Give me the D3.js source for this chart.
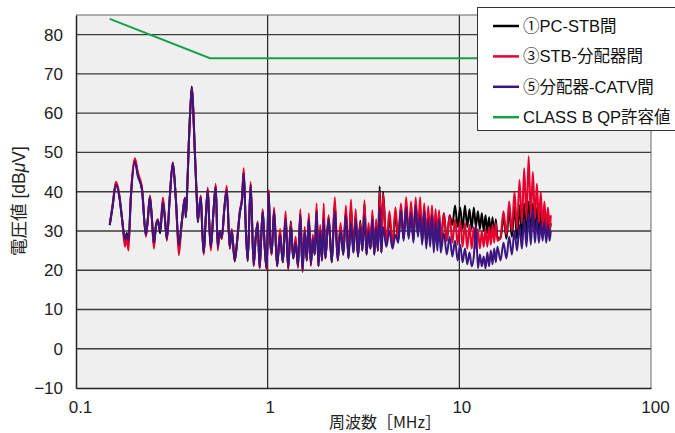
<!DOCTYPE html>
<html><head><meta charset="utf-8">
<script src="https://cdn.jsdelivr.net/npm/d3@7"></script>
<style>body{margin:0;background:#fff;} svg{display:block;font-family:"Liberation Sans","Noto Sans CJK JP",sans-serif;}</style>
</head><body><svg id="c" width="675" height="433"></svg>
<script>
// Frequency sweep points (MHz)
const freqMHz = [
0.150,0.155,0.1615,0.168,0.174, 0.180,0.184,0.188,0.193,0.203, 0.210,0.221,0.2315,0.237,0.243,
0.249,0.255,0.261,0.267,0.275, 0.284,0.290,0.298,0.308,0.320, 0.332,0.344,0.356,0.370,0.374,
0.380,0.3876,0.397,0.402,0.407, 0.417,0.427,0.432,0.440,0.448, 0.456,0.464,0.475,0.487,0.496,
0.505,0.520,0.536,0.549,0.562, 0.576,0.595,0.612,0.634,0.650, 0.673,0.695,0.715,0.735,0.750,
0.770,0.787,0.815,0.845,0.865, 0.887,0.908,0.925,0.942,0.965, 0.988,1.000,1.012,1.030,1.049,
1.08,1.12,1.16,1.20,1.24,1.28,1.32,1.36,1.40,1.44,1.48,1.52,1.56,1.60,1.64,1.68,1.72,1.76,1.80,1.84,1.88,1.92,1.96,2.00,
2.08,2.16,2.24,2.32,2.40,2.48,2.56,2.64,2.72,2.80,2.88,2.96,3.04,3.12,3.20,3.28,3.36,3.44,3.52,3.60,3.68,3.76,3.84,3.92,4.00,
4.16,4.32,4.48,4.64,4.80,4.96,5.12,5.28,5.44,5.60,5.76,5.92,6.08,6.24,6.40,6.56,6.72,6.88,7.04,7.20,7.36,7.52,7.68,7.84,8.00,
8.3,8.6,8.9,9.2,9.5,9.8,10.1,10.4,10.7,11.0,11.3,11.6,11.9,12.2,12.5,12.8,13.1,13.4,13.7,14.0,14.3,14.6,14.9,15.2,15.5,15.8,
16.4,17.0,17.6,18.2,18.8,19.4,20.0,20.6,21.2,21.8,22.4,23.0,23.6,24.2,24.8,25.4,26.0,26.6,27.2,27.8,28.4,29.0,29.6,30.0
];
// ① PC-STB間 (dBμV)
const pcStb = [
31.5,36,42,39,33, 27.5,29.5,27,38,48, 44.5,40.5,29,33,38.8,
33,26.5,31,32.7,29.4, 37.5,34,28,38,47.3, 38,26,32,38.3,33.5,
40,52,63,66.8,63, 50,38,32.2,36,38.6, 30,24.4,33,40.4,31.5,
25.9,34,41.5,26,30, 28,36,40.5,25.5,30, 22.2,28,34.5,38,45,
30,22.3,42,21.2,28, 32,20.5,28,35,26, 20.3,30,39.8,28,24,
35.3,21,29.5,22,33.5,20.5,32.5,23,27.5,21,34.5,20,30,22.5,33.5,21.5,28.5,24,35.5,21,30,22.5,34,23,
33.5,22,37,22.5,31,24,35,23,36,24.5,34,23.5,32.6,25,37,24,31,25.5,34,24,32,25,41.4,24.5,40,
26.5,33,26,34,27.5,36,28,36.5,28.5,35.5,27.5,37,29,36,27,35.5,26.5,34.5,27,35,26,34,27,34.5,26.5,
34.5,27.5,34,31.5,36.5,31,36,30.5,36.5,31,35.5,30.5,36,31,35,30.5,34.5,30,34,29.5,33.5,29,33.5,28.5,33,28.5,
28,33.5,28,35,28.5,36,28,36.5,28.5,37,28.5,37.5,29,37,29,36,29.5,35,29.5,34.5,30,34,30,32
];
// ③ STB-分配器間 (dBμV)
const stbSplitter = [
31.8,36.5,42.5,39.5,33, 26,28,25,38.5,48.5, 45,41,28.5,33,39,
33,25.5,31.5,33,30.5, 38.5,34.5,27.5,38,47.5, 38,23.8,32,38.5,33.5,
40,52,63,66.3,63, 50,38,32.7,36,39, 30,24,33,41,32,
25,34,42,25,30, 28,36,41.5,25.5,30.5, 22.5,28.5,35,38.5,46,
30,22.5,42.5,21,28, 32.5,20.5,28,35.5,26, 20,30.5,40.5,28,24,
36,21,30.5,22,35,20,32,23,28.5,20.5,35.5,19.5,31,22.5,34.5,21,29,24,37,21,31.5,22.5,37,23,
34,22,38.6,22.5,32,24,36.5,23,38,24.5,35.5,23.5,32,25,37.8,24,32,25.5,35.3,24,33,25,40,24.5,39.5,
27,35,26.5,36,28,37,28,38.6,29,37.5,28.5,38.5,29,38.6,28,37,27.5,36.3,28,36.5,27.5,35.5,28,35.3,27,
34.5,27.5,34,27,33,26.5,32.5,26,32,25.5,31.5,25.5,31,25.5,30.5,25.5,30,26,30.5,26,31,26.5,31.5,27,32,27.5,
28.5,35,29,37.5,30,40,30.5,43,32,46,33,49,33.5,45,33,42,32,40,31,37.5,30.5,36,30,34
];
// ⑤ 分配器-CATV間 (dBμV)
const splitterCatv = [
31.5,36,41.7,39,33, 28,29,27.5,38,47.5, 44,40.4,29,33,38.6,
33,27,31,32.7,30, 37.3,34,28,38,47.3, 38,26.4,32,38.3,33.5,
40,52,63,66.3,63, 50,38,32.7,36,38.6, 30,24.4,33,40.4,32,
25.9,34,41.1,25.9,30, 28.4,36,40.4,25.9,30, 22.6,28,34.5,38,44.7,
30,22.6,41.7,21.3,28, 32,20.8,28,34.8,26, 20.5,30,39.6,28,24.4,
35,21,29,22,33,20.5,31,23,27,21,34,20,30,22.5,33,21.5,28,24,35,21,30,22.5,33,23,
33,22,35,22.5,30,24,34,23,32,24.5,33,23.5,31,25,34,24,30,25.5,33,24,31,25,36,24.5,31,
26,30,25.5,29,27,35,27.5,36,28,34.5,27,36.5,28.5,34,26.5,35,25.5,33,26,34,24.5,32.5,25,33,24.5,
29.5,24,28.5,23.5,27.5,22.5,26.5,22,25.5,21.5,24.5,21,23.5,31.5,20.5,24,21,23.5,20.5,24.5,21,25,21.5,25.5,22,26,
22.5,27,23,28.5,24,30,25,31.5,25.5,33,26,34.5,26.5,35.5,27,33,27,32,27.5,32.5,27,31.5,27.5,30
];
// CLASS B QP limit
const limitFreq = [0.15, 0.5, 30];
const limitQP = [84, 74, 74];

const yTicks = [-10,0,10,20,30,40,50,60,70,80];
const xTicks = [0.1,1,10,100];
const seriesNames = ["①PC-STB間","③STB-分配器間","⑤分配器-CATV間","CLASS B QP許容値"];
const seriesColors = ["#000000","#e5002d","#3b1580","#17a04a"];

const svg = d3.select("#c");
const L = 76, R = 651, T = 15, B = 388;
const x = d3.scaleLog().domain([0.1,100]).range([L,R]);
const y = d3.scaleLinear().domain([-10,85]).range([B,T]);

svg.append("rect").attr("x",L).attr("y",T).attr("width",R-L).attr("height",B-T).attr("fill","#efefef");

// horizontal grid
svg.append("g").selectAll("line").data(yTicks.filter(d=>d>-10)).join("line")
  .attr("x1",L).attr("x2",R).attr("y1",d=>y(d)).attr("y2",d=>y(d))
  .attr("stroke","#3c3c3c").attr("stroke-width",1.4);
// vertical grid
svg.append("g").selectAll("line").data([1,10]).join("line")
  .attr("x1",d=>x(d)).attr("x2",d=>x(d)).attr("y1",T).attr("y2",B)
  .attr("stroke","#111").attr("stroke-width",1.1);
// frame
svg.append("line").attr("x1",L).attr("x2",R).attr("y1",T).attr("y2",T).attr("stroke","#666").attr("stroke-width",1);
svg.append("line").attr("x1",R).attr("x2",R).attr("y1",T).attr("y2",B).attr("stroke","#666").attr("stroke-width",1);

// axes
const yAxis = d3.axisLeft(y).tickValues(yTicks).tickSize(0).tickPadding(13)
  .tickFormat(d => d < 0 ? "\u2212" + Math.abs(d) : String(d));
const gy = svg.append("g").attr("transform",`translate(${L},0)`).call(yAxis);
gy.select(".domain").attr("stroke","#222").attr("stroke-width",1.5);
gy.selectAll("text").attr("font-size",17).attr("fill","#222").attr("font-family","Liberation Sans, sans-serif");

const xAxis = d3.axisBottom(x).tickValues(xTicks).tickSize(0).tickPadding(13)
  .tickFormat(d => String(d));
const gx = svg.append("g").attr("transform",`translate(0,${B})`).call(xAxis);
gx.select(".domain").attr("stroke","#222").attr("stroke-width",1.5);
gx.selectAll("text").attr("font-size",17).attr("fill","#222").attr("font-family","Liberation Sans, sans-serif")
  .attr("dx", d => d === 0.1 ? 4 : (d === 100 ? 4 : 2));

// series
const line = d3.line().x(d=>x(d[0])).y(d=>y(d[1])).curve(d3.curveMonotoneX);
const allSeries = [pcStb, stbSplitter, splitterCatv];
allSeries.forEach((vals,i)=>{
  svg.append("path").datum(freqMHz.map((f,j)=>[f, vals[j]]))
    .attr("fill","none").attr("stroke",seriesColors[i]).attr("stroke-width",2)
    .attr("stroke-linejoin","round").attr("d",line);
});
svg.append("path").datum(limitFreq.map((f,j)=>[f, limitQP[j]]))
  .attr("fill","none").attr("stroke",seriesColors[3]).attr("stroke-width",2)
  .attr("d",d3.line().x(d=>x(d[0])).y(d=>y(d[1])));

// axis titles
svg.append("text").attr("x",385).attr("y",428).attr("text-anchor","middle")
  .attr("font-size",16).attr("fill","#222").attr("font-family","Noto Sans CJK JP, sans-serif").text("周波数［MHz］");
const yt = svg.append("text").attr("transform","translate(25,201) rotate(-90)").attr("text-anchor","middle")
  .attr("font-size",17.5).attr("fill","#222").attr("font-family","Liberation Sans, Noto Sans CJK JP, sans-serif");
yt.append("tspan").text("電圧値 [dB");
yt.append("tspan").attr("font-style","italic").text("μ");
yt.append("tspan").text("V]");

// legend
const lg = svg.append("g");
lg.append("rect").attr("x",477.5).attr("y",7.5).attr("width",220).attr("height",123)
  .attr("fill","#fff").attr("stroke","#333").attr("stroke-width",1);
seriesNames.forEach((n,i)=>{
  const yy = 26 + i*30.4;
  lg.append("line").attr("x1",493).attr("x2",519).attr("y1",yy).attr("y2",yy)
    .attr("stroke",seriesColors[i]).attr("stroke-width",2.5);
  lg.append("text").attr("x",523).attr("y",yy+6).attr("font-size",16.5).attr("fill","#111").text(n);
});
</script></body></html>
